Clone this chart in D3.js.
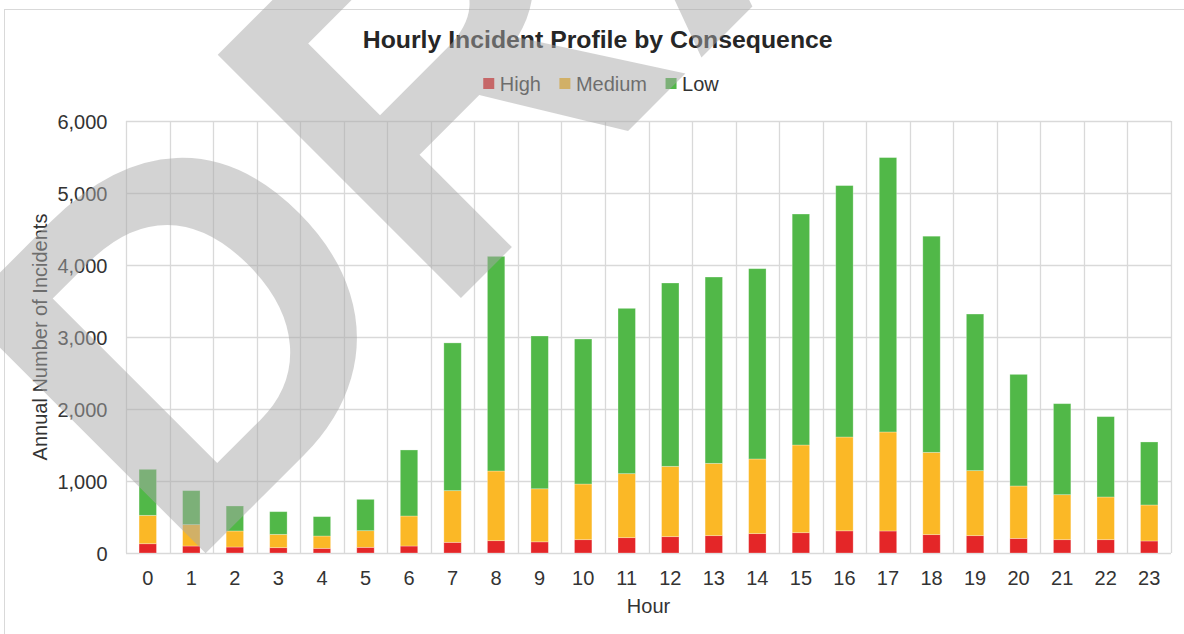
<!DOCTYPE html>
<html>
<head>
<meta charset="utf-8">
<script src="https://cdn.jsdelivr.net/npm/d3@7"></script>
<style>
  body { margin: 0; background: #fff; }
  svg { display: block; font-family: "Liberation Sans", Arial, sans-serif; }
</style>
</head>
<body>
<div id="chart"></div>
<script>
// hours on the category axis
const hours = ["0","1","2","3","4","5","6","7","8","9","10","11","12","13","14","15","16","17","18","19","20","21","22","23"];

// annual incidents per hour, by consequence
const high   = [129, 97, 83, 74, 65, 79, 97, 148, 171, 155, 185, 213, 227, 241, 269, 282, 308, 306, 255, 241, 203, 185, 185, 167];
const medium = [394, 297, 223, 185, 171, 231, 417, 718, 968, 737, 773, 889, 977, 1004, 1037, 1218, 1303, 1375, 1143, 903, 728, 625, 593, 500];
const low    = [639, 472, 347, 315, 269, 435, 917, 2052, 2981, 2122, 2014, 2296, 2546, 2588, 2643, 3208, 3492, 3811, 3002, 2175, 1550, 1264, 1116, 875];

const seriesNames = ["High", "Medium", "Low"];
const yTicks = [0, 1000, 2000, 3000, 4000, 5000, 6000];

const width = 1184;
const height = 634;
const margin = {top: 121, right: 13, bottom: 81, left: 126};

const colors = {High: "#E42628", Medium: "#FBB826", Low: "#51B848"};
const textColor = "#333333";
const gridColor = "#d9d9d9";

// table for the stack layout
const rows = hours.map((h, i) => ({hour: h, High: high[i], Medium: medium[i], Low: low[i]}));

const svg = d3.select("#chart")
  .append("svg")
  .attr("width", width)
  .attr("height", height);

// chart area border
svg.append("rect")
  .attr("x", 4.5).attr("y", 9.5)
  .attr("width", 1186).attr("height", 700)
  .attr("fill", "#fff")
  .attr("stroke", gridColor);

const x = d3.scaleBand()
  .domain(hours)
  .range([margin.left, width - margin.right])
  .paddingInner(0.6)
  .paddingOuter(0.3);

const y = d3.scaleLinear()
  .domain([0, 6000])
  .range([height - margin.bottom, margin.top]);

const step = x.step();

// horizontal gridlines
svg.append("g")
  .selectAll("line")
  .data(yTicks)
  .join("line")
  .attr("x1", margin.left).attr("x2", width - margin.right)
  .attr("y1", d => Math.round(y(d)) + 0.5).attr("y2", d => Math.round(y(d)) + 0.5)
  .attr("stroke", gridColor)
  .attr("stroke-width", 1.3);

// vertical gridlines between categories
svg.append("g")
  .selectAll("line")
  .data(d3.range(hours.length + 1))
  .join("line")
  .attr("x1", i => Math.round(margin.left + i * step) + 0.5)
  .attr("x2", i => Math.round(margin.left + i * step) + 0.5)
  .attr("y1", y(6000)).attr("y2", y(0))
  .attr("stroke", gridColor)
  .attr("stroke-width", 1.3);

// stacked bars
const stacked = d3.stack().keys(seriesNames)(rows);

svg.append("g")
  .selectAll("g")
  .data(stacked)
  .join("g")
  .attr("fill", d => colors[d.key])
  .selectAll("rect")
  .data(d => d)
  .join("rect")
  .attr("x", d => x(d.data.hour))
  .attr("width", x.bandwidth())
  .attr("y", d => y(d[1]))
  .attr("height", d => y(d[0]) - y(d[1]))
  .attr("stroke", "#fff")
  .attr("stroke-opacity", 0.35)
  .attr("stroke-width", 0.8);

// y tick labels
svg.append("g")
  .selectAll("text")
  .data(yTicks)
  .join("text")
  .attr("x", 107.5)
  .attr("y", d => y(d) + 7.5)
  .attr("text-anchor", "end")
  .attr("font-size", 20)
  .attr("fill", textColor)
  .text(d3.format(","));

// x tick labels
svg.append("g")
  .selectAll("text")
  .data(hours)
  .join("text")
  .attr("x", d => x(d) + x.bandwidth() / 2)
  .attr("y", 585)
  .attr("text-anchor", "middle")
  .attr("font-size", 20)
  .attr("fill", textColor)
  .text(d => d);

// axis titles
svg.append("text")
  .attr("x", (margin.left + width - margin.right) / 2)
  .attr("y", 613)
  .attr("text-anchor", "middle")
  .attr("font-size", 20)
  .attr("fill", textColor)
  .text("Hour");

svg.append("text")
  .attr("transform", `translate(47,${(y(0) + y(6000)) / 2}) rotate(-90)`)
  .attr("text-anchor", "middle")
  .attr("font-size", 20)
  .attr("fill", textColor)
  .text("Annual Number of Incidents");

// title
svg.append("text")
  .attr("x", 597.7)
  .attr("y", 47.5)
  .attr("text-anchor", "middle")
  .attr("font-size", 24.8)
  .attr("font-weight", "bold")
  .attr("fill", "#262626")
  .text("Hourly Incident Profile by Consequence");

// legend, laid out item by item then centred
const legend = svg.append("g");
let lx = 0;
seriesNames.forEach(name => {
  legend.append("rect")
    .attr("x", lx).attr("y", 78)
    .attr("width", 11).attr("height", 11)
    .attr("fill", colors[name]);
  const t = legend.append("text")
    .attr("x", lx + 16.5)
    .attr("y", 90.5)
    .attr("font-size", 20)
    .attr("fill", textColor)
    .text(name);
  lx += 16.5 + t.node().getComputedTextLength() + 18.5;
});
const legendW = lx - 18.5;
legend.attr("transform", `translate(${601 - legendW / 2},0)`);

// DRAFT watermark over everything
svg.append("text")
  .attr("transform", "translate(182,577) rotate(-45)")
  .attr("font-size", 500)
  .attr("font-weight", "bold")
  .attr("fill", "#a8a8a8")
  .attr("fill-opacity", 0.5)
  .text("DRAFT");
</script>
</body>
</html>
